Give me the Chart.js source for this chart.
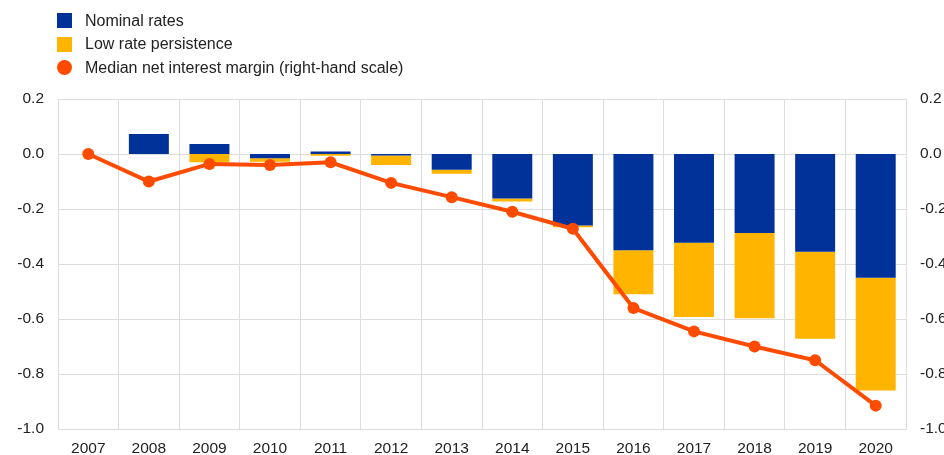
<!doctype html>
<html lang="en">
  <head>
    <meta charset="UTF-8" />
    <title>Net interest margin decomposition</title>
    <script src="https://cdn.jsdelivr.net/npm/chart.js"></script>
    <style>
      body {
        margin: 0;
        background: #fff;
        font-family: Arial, 'Liberation Sans', sans-serif;
      }
      .wrap {
        position: relative;
        width: 944px;
        height: 455px;
        overflow: hidden;
      }
      .legend {
        position: absolute;
        left: 57px;
        top: 9px;
        font-size: 16px;
        color: #222;
      }
      .legend-item {
        display: flex;
        align-items: center;
        height: 23.5px;
      }
      .swatch {
        width: 15px;
        height: 15px;
        margin-right: 13px;
      }
      .dot {
        border-radius: 50%;
      }
    </style>
  </head>
  <body>
    <div class="wrap">
      <canvas id="chart" width="944" height="455"></canvas>
      <div class="legend">
        <div class="legend-item"><span class="swatch" style="background: #003299"></span>Nominal rates</div>
        <div class="legend-item"><span class="swatch" style="background: #ffb400"></span>Low rate persistence</div>
        <div class="legend-item"><span class="swatch dot" style="background: #ff4b00"></span>Median net interest margin (right-hand scale)</div>
      </div>
    </div>

    <script>
      const years = ['2007', '2008', '2009', '2010', '2011', '2012', '2013', '2014', '2015', '2016', '2017', '2018', '2019', '2020'];
      const nominalRates = [0, 0.073, 0.036, -0.015, 0.009, -0.005, -0.057, -0.162, -0.26, -0.35, -0.323, -0.287, -0.355, -0.45];
      const lowRatePersistence = [0, 0, -0.03, -0.013, -0.006, -0.035, -0.015, -0.011, -0.006, -0.16, -0.27, -0.31, -0.317, -0.41];
      const netInterestMargin = [0, -0.1, -0.036, -0.04, -0.03, -0.105, -0.157, -0.21, -0.272, -0.56, -0.645, -0.7, -0.75, -0.915];

      const gridColor = '#dddddd';
      const tickFont = { family: "Arial, 'Liberation Sans', sans-serif", size: 15.5 };
      const fmt = (v) => (Math.abs(v) < 1e-9 ? '0.0' : Number(v).toFixed(1));

      new Chart(document.getElementById('chart'), {
        type: 'bar',
        data: {
          labels: years,
          datasets: [
            {
              type: 'line',
              label: 'Median net interest margin (right-hand scale)',
              data: netInterestMargin,
              yAxisID: 'y2',
              borderColor: '#ff4b00',
              backgroundColor: '#ff4b00',
              borderWidth: 4,
              pointRadius: 6,
              pointBorderWidth: 0,
              tension: 0,
              order: 0,
            },
            {
              label: 'Nominal rates',
              data: nominalRates,
              backgroundColor: '#003299',
              order: 1,
            },
            {
              label: 'Low rate persistence',
              data: lowRatePersistence,
              backgroundColor: '#ffb400',
              order: 1,
            },
          ],
        },
        options: {
          responsive: false,
          animation: false,
          barPercentage: 0.66,
          categoryPercentage: 1,
          layout: { padding: { top: 99, left: 0, right: 0, bottom: 0 } },
          plugins: {
            legend: { display: false },
            tooltip: { enabled: false },
          },
          scales: {
            x: {
              stacked: true,
              grid: { color: gridColor, offset: true, drawTicks: false },
              border: { color: gridColor },
              ticks: { color: '#222', font: tickFont, padding: 10, maxRotation: 0 },
              afterFit: (s) => { s.height = 26; },
            },
            y: {
              stacked: true,
              position: 'left',
              min: -1,
              max: 0.2,
              grid: { color: gridColor, drawTicks: false },
              border: { color: gridColor },
              ticks: {
                stepSize: 0.2,
                color: '#222',
                font: tickFont,
                padding: 14,
                callback: fmt,
              },
              afterFit: (s) => { s.width = 58; },
            },
            y2: {
              position: 'right',
              min: -1,
              max: 0.2,
              grid: { display: false, drawTicks: false },
              border: { color: gridColor },
              ticks: {
                stepSize: 0.2,
                color: '#222',
                font: tickFont,
                padding: 14,
                callback: fmt,
              },
              afterFit: (s) => { s.width = 38; },
            },
          },
        },
      });
    </script>
  </body>
</html>
